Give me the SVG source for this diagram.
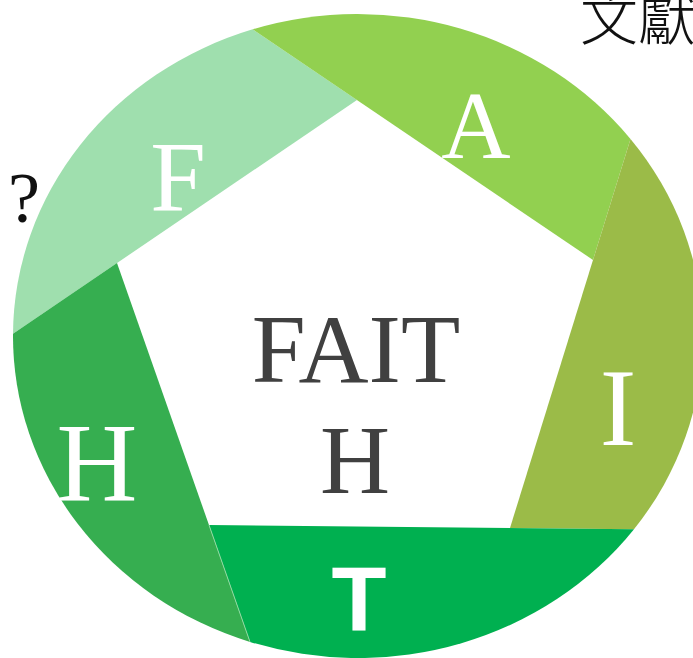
<svg xmlns="http://www.w3.org/2000/svg" width="693" height="658" viewBox="0 0 693 658">
  <style>
    .seg-label { font-family: "Liberation Serif", "DejaVu Serif", serif; fill: #ffffff; text-anchor: middle; }
    .center-label { font-family: "Liberation Serif", "DejaVu Serif", serif; fill: #404040; text-anchor: middle; font-size: 97px; }
  </style>
  <rect width="693" height="658" fill="#ffffff"/>
  <g id="segment-F">
    <path d="M13,333.7 A345,322 0 0 1 252.7,29.3 L357,100 Z" fill="#9fdfae"/>
    <text class="seg-label" x="178" y="210" font-size="100">F</text>
  </g>
  <g id="segment-A">
    <path d="M252.7,29.3 A345,322 0 0 1 630.5,138.9 L593,260 Z" fill="#92d050"/>
    <text class="seg-label" x="476" y="158" font-size="96">A</text>
  </g>
  <g id="segment-I">
    <path d="M630.5,138.9 A345,322 0 0 1 634,529.2 L510,528 Z" fill="#9bbb48"/>
    <text class="seg-label" x="618" y="445" font-size="110">I</text>
  </g>
  <g id="segment-T">
    <path d="M634,529.2 A345,322 0 0 1 250,641.9 L209,525 Z" fill="#00b050"/>
    <text x="359" y="631" font-size="90" font-family="Liberation Sans, Arial, sans-serif" font-weight="bold" fill="#ffffff" text-anchor="middle">T</text>
  </g>
  <g id="segment-H">
    <path d="M250,641.9 A345,322 0 0 1 13,333.7 L117,263 Z" fill="#36ae50"/>
    <text class="seg-label" x="97" y="500" font-size="112">H</text>
  </g>
  <g id="connectors">
    <line x1="209" y1="525" x2="250" y2="641.9" stroke="#8ed9a0" stroke-width="1"/>
  </g>
  <g id="center">
    <text class="center-label" x="356" y="382">FAIT</text>
    <text class="center-label" x="355" y="493">H</text>
  </g>
  <g id="question">
    <text x="8" y="222" font-size="72" font-family="Liberation Serif, serif" fill="#111111">?</text>
  </g>
  <g id="title">
    <text x="580" y="40" font-size="58" font-family="Noto Sans CJK TC, Noto Sans CJK SC, sans-serif" font-weight="300" fill="#111111">文獻</text>
  </g>
</svg>
